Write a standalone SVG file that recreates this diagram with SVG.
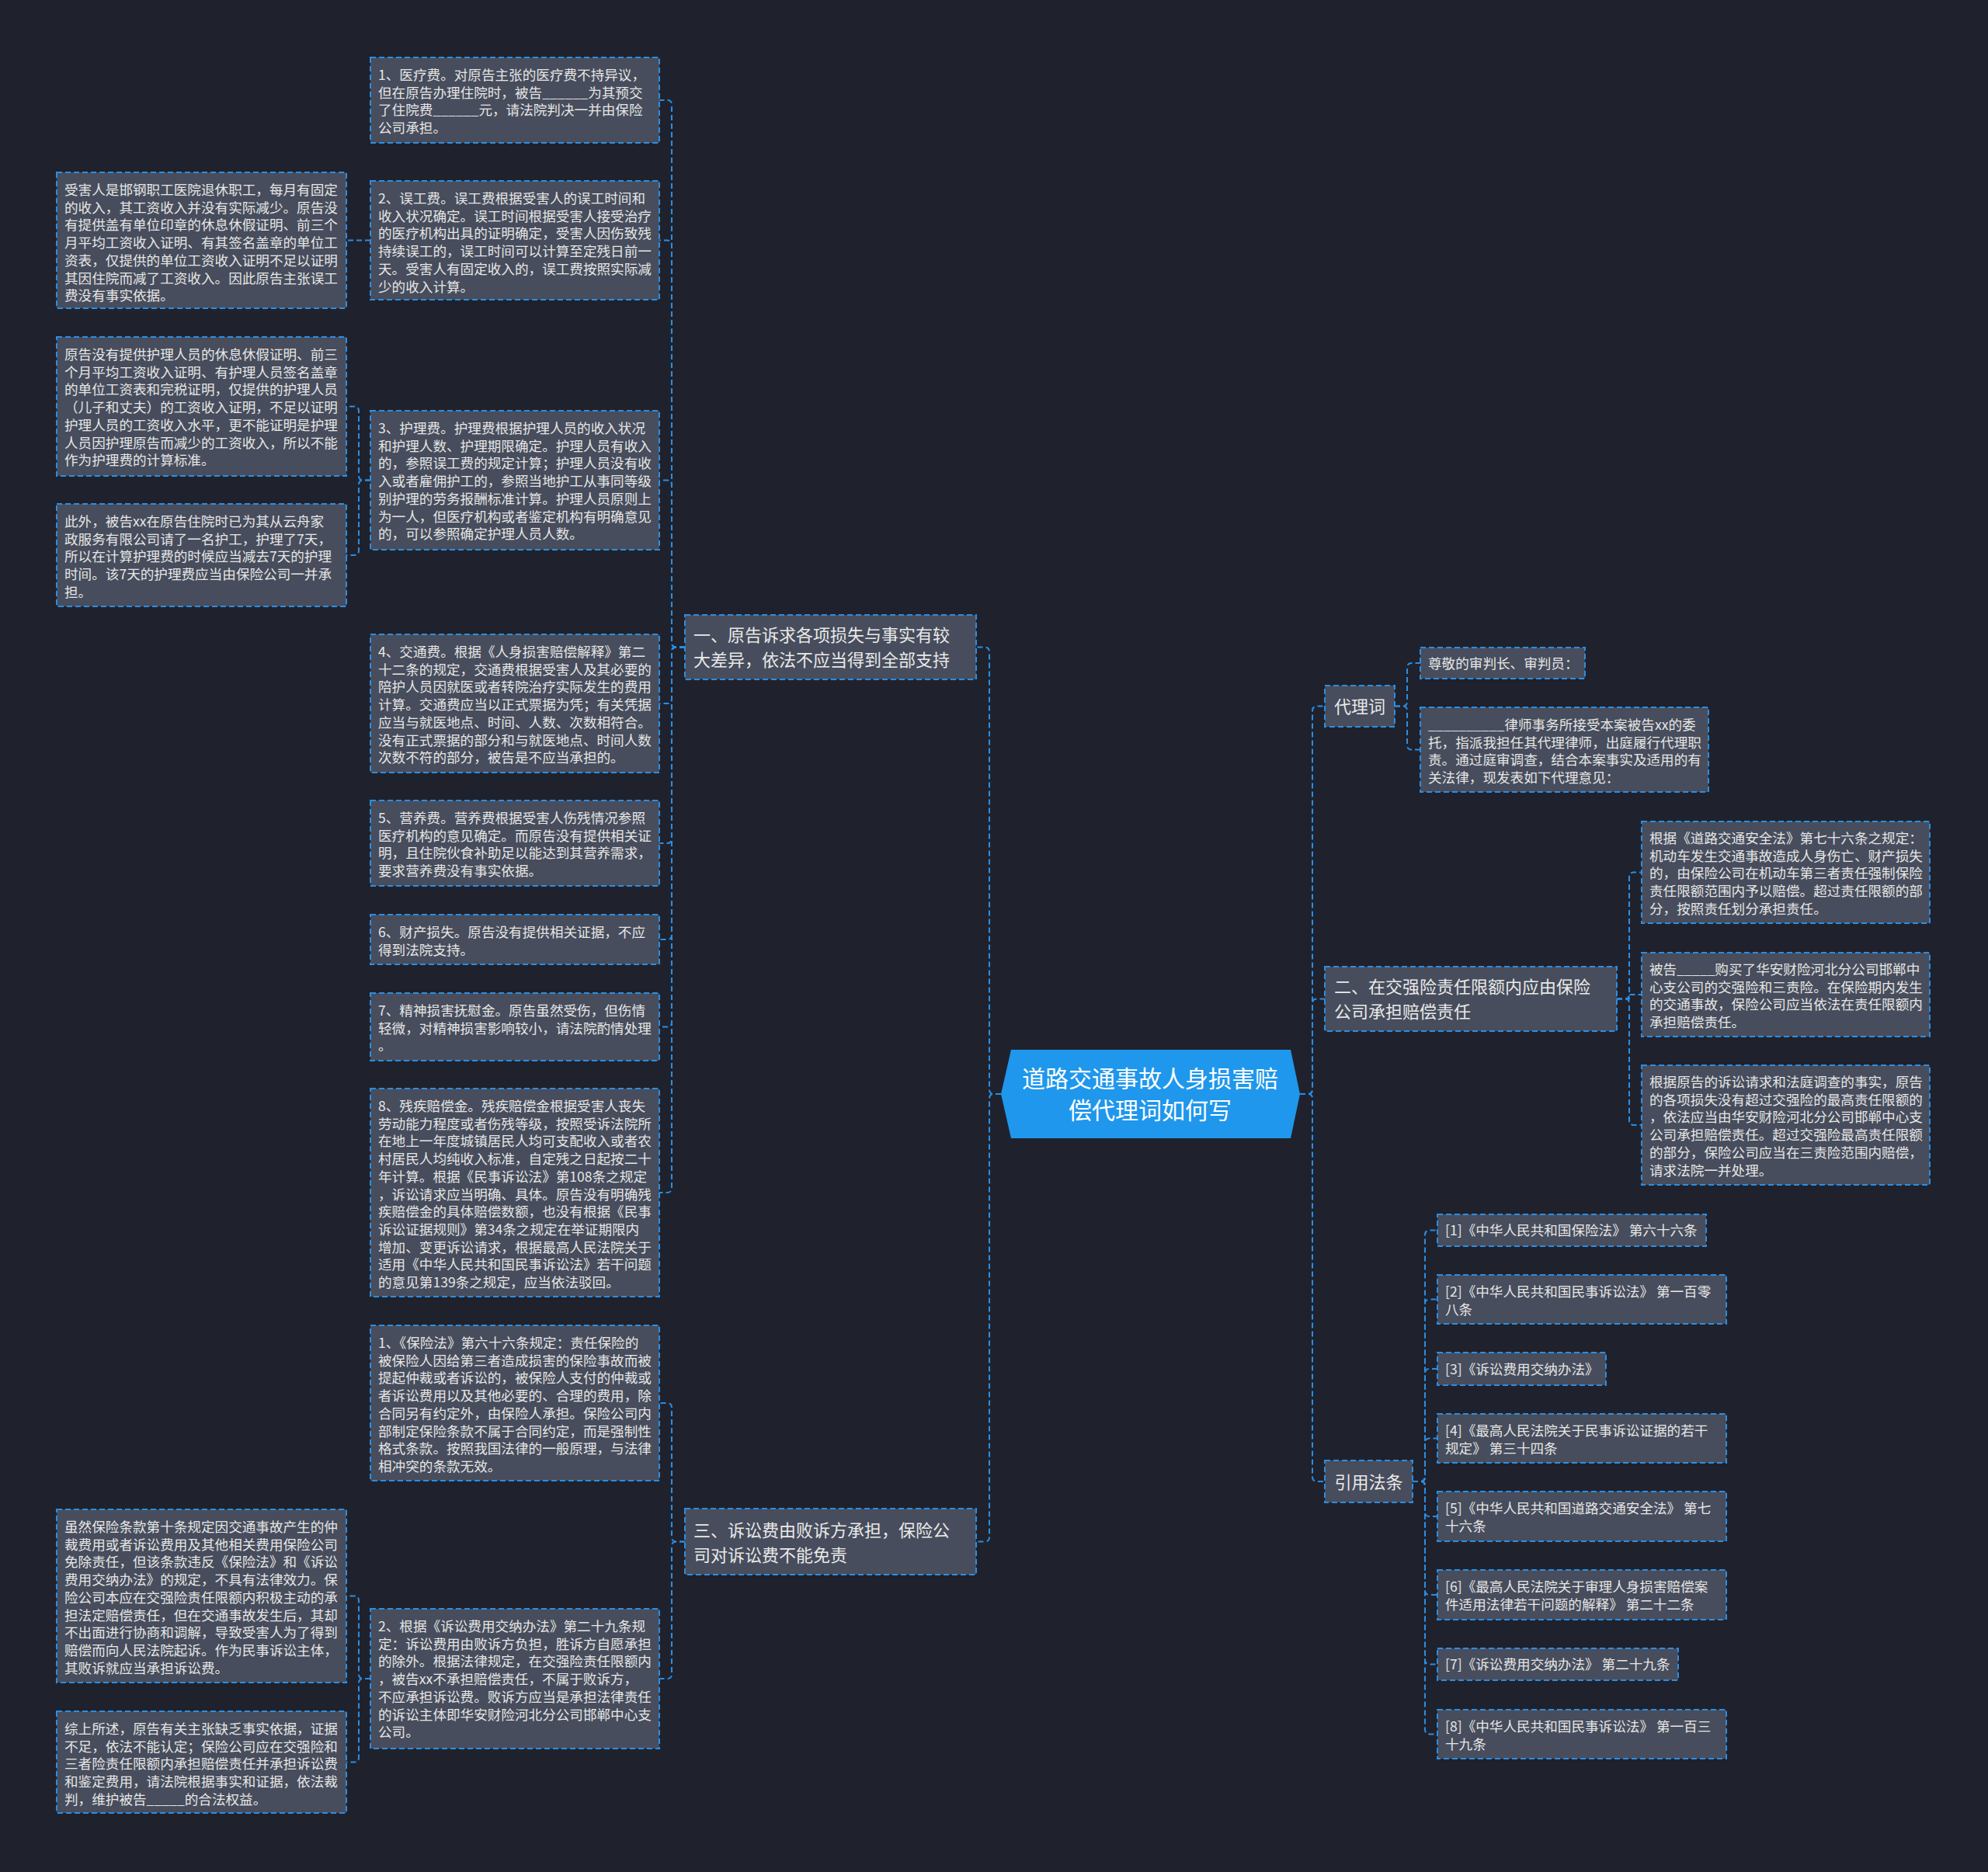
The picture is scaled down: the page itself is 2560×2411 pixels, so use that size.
<svg xmlns="http://www.w3.org/2000/svg" width="2560" height="2411" viewBox="0 0 2560 2411">
<style>
.n rect{fill:#474d5c;stroke:#2b8de3;stroke-width:2;stroke-dasharray:7 4}
.t{font-family:"Noto Sans CJK SC","Noto Sans",sans-serif;fill:#e6e6e6;font-size:17.6px}
.tb{font-family:"Noto Sans CJK SC","Noto Sans",sans-serif;fill:#e9e9e9;font-size:22px}
.tc{font-family:"Noto Sans CJK SC","Noto Sans",sans-serif;fill:#ffffff;font-size:30px;text-anchor:middle}
.mid{text-anchor:middle}
#conn path{fill:none;stroke:#2b8de3;stroke-width:2;stroke-dasharray:7 4}
</style>
<rect width="2560" height="2411" fill="#1f222d"/>
<g id="conn">
<path d="M1289,1409 H1280 Q1274,1409 1274,1403 V839.5 Q1274,833.5 1268,833.5 H1257"/>
<path d="M1289,1409 H1280 Q1274,1409 1274,1415 V1979.5 Q1274,1985.5 1268,1985.5 H1257"/>
<path d="M1674,1409 H1684 Q1690,1409 1690,1403 V915.5 Q1690,909.5 1696,909.5 H1706"/>
<path d="M1674,1409 H1684 Q1690,1409 1690,1403 V1292.5 Q1690,1286.5 1696,1286.5 H1706"/>
<path d="M1674,1409 H1684 Q1690,1409 1690,1415 V1902 Q1690,1908 1696,1908 H1706"/>
<path d="M882,833.5 H871 Q865,833.5 865,827.5 V135 Q865,129 859,129 H849"/>
<path d="M882,833.5 H871 Q865,833.5 865,827.5 V315.5 Q865,309.5 859,309.5 H849"/>
<path d="M882,833.5 H871 Q865,833.5 865,827.5 V624.5 Q865,618.5 859,618.5 H849"/>
<path d="M882,833.5 H871 Q865,833.5 865,839.5 V900 Q865,906 859,906 H849"/>
<path d="M882,833.5 H871 Q865,833.5 865,839.5 V1080 Q865,1086 859,1086 H849"/>
<path d="M882,833.5 H871 Q865,833.5 865,839.5 V1204 Q865,1210 859,1210 H849"/>
<path d="M882,833.5 H871 Q865,833.5 865,839.5 V1316.5 Q865,1322.5 859,1322.5 H849"/>
<path d="M882,833.5 H871 Q865,833.5 865,839.5 V1530 Q865,1536 859,1536 H849"/>
<path d="M882,1985.5 H871 Q865,1985.5 865,1979.5 V1813 Q865,1807 859,1807 H849"/>
<path d="M882,1985.5 H871 Q865,1985.5 865,1991.5 V2156 Q865,2162 859,2162 H849"/>
<path d="M477,309.5 H446"/>
<path d="M477,618.5 H468 Q462,618.5 462,612.5 V529.5 Q462,523.5 456,523.5 H446"/>
<path d="M477,618.5 H468 Q462,618.5 462,624.5 V709 Q462,715 456,715 H446"/>
<path d="M477,2162 H468 Q462,2162 462,2156 V2061.5 Q462,2055.5 456,2055.5 H446"/>
<path d="M477,2162 H468 Q462,2162 462,2168 V2263.5 Q462,2269.5 456,2269.5 H446"/>
<path d="M1796,909.5 H1806 Q1812,909.5 1812,903.5 V860 Q1812,854 1818,854 H1829"/>
<path d="M1796,909.5 H1806 Q1812,909.5 1812,915.5 V959.5 Q1812,965.5 1818,965.5 H1829"/>
<path d="M2082,1286.5 H2092 Q2098,1286.5 2098,1280.5 V1129.5 Q2098,1123.5 2104,1123.5 H2114"/>
<path d="M2082,1286.5 H2098 V1281 H2114"/>
<path d="M2082,1286.5 H2092 Q2098,1286.5 2098,1292.5 V1443 Q2098,1449 2104,1449 H2114"/>
<path d="M1819,1908 H1829 Q1835,1908 1835,1902 V1590.5 Q1835,1584.5 1841,1584.5 H1851"/>
<path d="M1819,1908 H1829 Q1835,1908 1835,1902 V1679.5 Q1835,1673.5 1841,1673.5 H1851"/>
<path d="M1819,1908 H1829 Q1835,1908 1835,1902 V1769 Q1835,1763 1841,1763 H1851"/>
<path d="M1819,1908 H1829 Q1835,1908 1835,1902 V1858.5 Q1835,1852.5 1841,1852.5 H1851"/>
<path d="M1819,1908 H1829 Q1835,1908 1835,1914 V1947 Q1835,1953 1841,1953 H1851"/>
<path d="M1819,1908 H1829 Q1835,1908 1835,1914 V2048 Q1835,2054 1841,2054 H1851"/>
<path d="M1819,1908 H1829 Q1835,1908 1835,1914 V2137.5 Q1835,2143.5 1841,2143.5 H1851"/>
<path d="M1819,1908 H1829 Q1835,1908 1835,1914 V2227.5 Q1835,2233.5 1841,2233.5 H1851"/>
</g>

<g id="center">
<polygon points="1302,1352 1662,1352 1674,1409 1662,1466 1302,1466 1289,1409" fill="#1f97ec"/>
<text class="tc"><tspan x="1481" y="1400">道路交通事故人身损害赔</tspan><tspan x="1481" y="1441">偿代理词如何写</tspan></text>
</g>

<g id="b1" class="n"><rect x="882" y="792" width="375" height="83"/>
<text class="tb"><tspan x="893" y="826">一、原告诉求各项损失与事实有较</tspan><tspan x="893" y="858">大差异，依法不应当得到全部支持</tspan></text></g>

<g id="b3" class="n"><rect x="882" y="1943" width="375" height="85"/>
<text class="tb"><tspan x="893" y="1979">三、诉讼费由败诉方承担，保险公</tspan><tspan x="893" y="2011">司对诉讼费不能免责</tspan></text></g>

<g id="n1" class="n"><rect x="477" y="74" width="372" height="110"/>
<text class="t"><tspan x="487" y="103">1、医疗费。对原告主张的医疗费不持异议，</tspan><tspan x="487" y="125.7">但在原告办理住院时，被告______为其预交</tspan><tspan x="487" y="148.4">了住院费______元，请法院判决一并由保险</tspan><tspan x="487" y="171.1">公司承担。</tspan></text></g>

<g id="n2" class="n"><rect x="477" y="233" width="372" height="153"/>
<text class="t"><tspan x="487" y="262">2、误工费。误工费根据受害人的误工时间和</tspan><tspan x="487" y="284.7">收入状况确定。误工时间根据受害人接受治疗</tspan><tspan x="487" y="307.4">的医疗机构出具的证明确定，受害人因伤致残</tspan><tspan x="487" y="330.1">持续误工的，误工时间可以计算至定残日前一</tspan><tspan x="487" y="352.8">天。受害人有固定收入的，误工费按照实际减</tspan><tspan x="487" y="375.5">少的收入计算。</tspan></text></g>

<g id="fl1" class="n"><rect x="73" y="222" width="373" height="175"/>
<text class="t"><tspan x="83" y="251">受害人是邯钢职工医院退休职工，每月有固定</tspan><tspan x="83" y="273.7">的收入，其工资收入并没有实际减少。原告没</tspan><tspan x="83" y="296.4">有提供盖有单位印章的休息休假证明、前三个</tspan><tspan x="83" y="319.1">月平均工资收入证明、有其签名盖章的单位工</tspan><tspan x="83" y="341.8">资表，仅提供的单位工资收入证明不足以证明</tspan><tspan x="83" y="364.5">其因住院而减了工资收入。因此原告主张误工</tspan><tspan x="83" y="387.2">费没有事实依据。</tspan></text></g>

<g id="n3" class="n"><rect x="477" y="529" width="372" height="179"/>
<text class="t"><tspan x="487" y="558">3、护理费。护理费根据护理人员的收入状况</tspan><tspan x="487" y="580.7">和护理人数、护理期限确定。护理人员有收入</tspan><tspan x="487" y="603.4">的，参照误工费的规定计算；护理人员没有收</tspan><tspan x="487" y="626.1">入或者雇佣护工的，参照当地护工从事同等级</tspan><tspan x="487" y="648.8">别护理的劳务报酬标准计算。护理人员原则上</tspan><tspan x="487" y="671.5">为一人，但医疗机构或者鉴定机构有明确意见</tspan><tspan x="487" y="694.2">的，可以参照确定护理人员人数。</tspan></text></g>

<g id="fl2" class="n"><rect x="73" y="434" width="373" height="179"/>
<text class="t"><tspan x="83" y="463">原告没有提供护理人员的休息休假证明、前三</tspan><tspan x="83" y="485.7">个月平均工资收入证明、有护理人员签名盖章</tspan><tspan x="83" y="508.4">的单位工资表和完税证明，仅提供的护理人员</tspan><tspan x="83" y="531.1">（儿子和丈夫）的工资收入证明，不足以证明</tspan><tspan x="83" y="553.8">护理人员的工资收入水平，更不能证明是护理</tspan><tspan x="83" y="576.5">人员因护理原告而减少的工资收入，所以不能</tspan><tspan x="83" y="599.2">作为护理费的计算标准。</tspan></text></g>

<g id="fl3" class="n"><rect x="73" y="649" width="373" height="132"/>
<text class="t"><tspan x="83" y="678">此外，被告xx在原告住院时已为其从云舟家</tspan><tspan x="83" y="700.7">政服务有限公司请了一名护工，护理了7天，</tspan><tspan x="83" y="723.4">所以在计算护理费的时候应当减去7天的护理</tspan><tspan x="83" y="746.1">时间。该7天的护理费应当由保险公司一并承</tspan><tspan x="83" y="768.8">担。</tspan></text></g>

<g id="n4" class="n"><rect x="477" y="817" width="372" height="178"/>
<text class="t"><tspan x="487" y="846">4、交通费。根据《人身损害赔偿解释》第二</tspan><tspan x="487" y="868.7">十二条的规定，交通费根据受害人及其必要的</tspan><tspan x="487" y="891.4">陪护人员因就医或者转院治疗实际发生的费用</tspan><tspan x="487" y="914.1">计算。交通费应当以正式票据为凭；有关凭据</tspan><tspan x="487" y="936.8">应当与就医地点、时间、人数、次数相符合。</tspan><tspan x="487" y="959.5">没有正式票据的部分和与就医地点、时间人数</tspan><tspan x="487" y="982.2">次数不符的部分，被告是不应当承担的。</tspan></text></g>

<g id="n5" class="n"><rect x="477" y="1031" width="372" height="110"/>
<text class="t"><tspan x="487" y="1060">5、营养费。营养费根据受害人伤残情况参照</tspan><tspan x="487" y="1082.7">医疗机构的意见确定。而原告没有提供相关证</tspan><tspan x="487" y="1105.4">明，且住院伙食补助足以能达到其营养需求，</tspan><tspan x="487" y="1128.1">要求营养费没有事实依据。</tspan></text></g>

<g id="n6" class="n"><rect x="477" y="1178" width="372" height="64"/>
<text class="t"><tspan x="487" y="1207">6、财产损失。原告没有提供相关证据，不应</tspan><tspan x="487" y="1229.7">得到法院支持。</tspan></text></g>

<g id="n7" class="n"><rect x="477" y="1279" width="372" height="87"/>
<text class="t"><tspan x="487" y="1308">7、精神损害抚慰金。原告虽然受伤，但伤情</tspan><tspan x="487" y="1330.7">轻微，对精神损害影响较小，请法院酌情处理</tspan><tspan x="487" y="1353.4">。</tspan></text></g>

<g id="n8" class="n"><rect x="477" y="1402" width="372" height="268"/>
<text class="t"><tspan x="487" y="1431">8、残疾赔偿金。残疾赔偿金根据受害人丧失</tspan><tspan x="487" y="1453.7">劳动能力程度或者伤残等级，按照受诉法院所</tspan><tspan x="487" y="1476.4">在地上一年度城镇居民人均可支配收入或者农</tspan><tspan x="487" y="1499.1">村居民人均纯收入标准，自定残之日起按二十</tspan><tspan x="487" y="1521.8">年计算。根据《民事诉讼法》第108条之规定</tspan><tspan x="487" y="1544.5">，诉讼请求应当明确、具体。原告没有明确残</tspan><tspan x="487" y="1567.2">疾赔偿金的具体赔偿数额，也没有根据《民事</tspan><tspan x="487" y="1589.9">诉讼证据规则》第34条之规定在举证期限内</tspan><tspan x="487" y="1612.6">增加、变更诉讼请求，根据最高人民法院关于</tspan><tspan x="487" y="1635.3">适用《中华人民共和国民事诉讼法》若干问题</tspan><tspan x="487" y="1658">的意见第139条之规定，应当依法驳回。</tspan></text></g>

<g id="t1" class="n"><rect x="477" y="1707" width="372" height="200"/>
<text class="t"><tspan x="487" y="1736">1、《保险法》第六十六条规定：责任保险的</tspan><tspan x="487" y="1758.7">被保险人因给第三者造成损害的保险事故而被</tspan><tspan x="487" y="1781.4">提起仲裁或者诉讼的，被保险人支付的仲裁或</tspan><tspan x="487" y="1804.1">者诉讼费用以及其他必要的、合理的费用，除</tspan><tspan x="487" y="1826.8">合同另有约定外，由保险人承担。保险公司内</tspan><tspan x="487" y="1849.5">部制定保险条款不属于合同约定，而是强制性</tspan><tspan x="487" y="1872.2">格式条款。按照我国法律的一般原理，与法律</tspan><tspan x="487" y="1894.9">相冲突的条款无效。</tspan></text></g>

<g id="t2" class="n"><rect x="477" y="2072" width="372" height="180"/>
<text class="t"><tspan x="487" y="2101">2、根据《诉讼费用交纳办法》第二十九条规</tspan><tspan x="487" y="2123.7">定：诉讼费用由败诉方负担，胜诉方自愿承担</tspan><tspan x="487" y="2146.4">的除外。根据法律规定，在交强险责任限额内</tspan><tspan x="487" y="2169.1">，被告xx不承担赔偿责任，不属于败诉方，</tspan><tspan x="487" y="2191.8">不应承担诉讼费。败诉方应当是承担法律责任</tspan><tspan x="487" y="2214.5">的诉讼主体即华安财险河北分公司邯郸中心支</tspan><tspan x="487" y="2237.2">公司。</tspan></text></g>

<g id="fl4" class="n"><rect x="73" y="1944" width="373" height="223"/>
<text class="t"><tspan x="83" y="1973">虽然保险条款第十条规定因交通事故产生的仲</tspan><tspan x="83" y="1995.7">裁费用或者诉讼费用及其他相关费用保险公司</tspan><tspan x="83" y="2018.4">免除责任，但该条款违反《保险法》和《诉讼</tspan><tspan x="83" y="2041.1">费用交纳办法》的规定，不具有法律效力。保</tspan><tspan x="83" y="2063.8">险公司本应在交强险责任限额内积极主动的承</tspan><tspan x="83" y="2086.5">担法定赔偿责任，但在交通事故发生后，其却</tspan><tspan x="83" y="2109.2">不出面进行协商和调解，导致受害人为了得到</tspan><tspan x="83" y="2131.9">赔偿而向人民法院起诉。作为民事诉讼主体，</tspan><tspan x="83" y="2154.6">其败诉就应当承担诉讼费。</tspan></text></g>

<g id="fl5" class="n"><rect x="73" y="2204" width="373" height="131"/>
<text class="t"><tspan x="83" y="2233">综上所述，原告有关主张缺乏事实依据，证据</tspan><tspan x="83" y="2255.7">不足，依法不能认定；保险公司应在交强险和</tspan><tspan x="83" y="2278.4">三者险责任限额内承担赔偿责任并承担诉讼费</tspan><tspan x="83" y="2301.1">和鉴定费用，请法院根据事实和证据，依法裁</tspan><tspan x="83" y="2323.8">判，维护被告_____的合法权益。</tspan></text></g>

<g id="r1" class="n"><rect x="1706" y="883" width="90" height="53"/>
<text class="tb mid" x="1751" y="918">代理词</text></g>

<g id="a1" class="n"><rect x="1829" y="834" width="212" height="40"/>
<text class="t" x="1839" y="860.5">尊敬的审判长、审判员：</text></g>

<g id="a2" class="n"><rect x="1829" y="911" width="371" height="109"/>
<text class="t"><tspan x="1839" y="940">__________律师事务所接受本案被告xx的委</tspan><tspan x="1839" y="962.7">托，指派我担任其代理律师，出庭履行代理职</tspan><tspan x="1839" y="985.4">责。通过庭审调查，结合本案事实及适用的有</tspan><tspan x="1839" y="1008.1">关法律，现发表如下代理意见：</tspan></text></g>

<g id="r2" class="n"><rect x="1706" y="1245" width="376" height="83"/>
<text class="tb"><tspan x="1718" y="1279">二、在交强险责任限额内应由保险</tspan><tspan x="1718" y="1311">公司承担赔偿责任</tspan></text></g>

<g id="e1" class="n"><rect x="2114" y="1058" width="371" height="131"/>
<text class="t"><tspan x="2124" y="1086">根据《道路交通安全法》第七十六条之规定：</tspan><tspan x="2124" y="1108.7">机动车发生交通事故造成人身伤亡、财产损失</tspan><tspan x="2124" y="1131.4">的，由保险公司在机动车第三者责任强制保险</tspan><tspan x="2124" y="1154.1">责任限额范围内予以赔偿。超过责任限额的部</tspan><tspan x="2124" y="1176.8">分，按照责任划分承担责任。</tspan></text></g>

<g id="e2" class="n"><rect x="2114" y="1227" width="371" height="108"/>
<text class="t"><tspan x="2124" y="1255">被告_____购买了华安财险河北分公司邯郸中</tspan><tspan x="2124" y="1277.7">心支公司的交强险和三责险。在保险期内发生</tspan><tspan x="2124" y="1300.4">的交通事故，保险公司应当依法在责任限额内</tspan><tspan x="2124" y="1323.1">承担赔偿责任。</tspan></text></g>

<g id="e3" class="n"><rect x="2114" y="1372" width="371" height="154"/>
<text class="t"><tspan x="2124" y="1400">根据原告的诉讼请求和法庭调查的事实，原告</tspan><tspan x="2124" y="1422.7">的各项损失没有超过交强险的最高责任限额的</tspan><tspan x="2124" y="1445.4">，依法应当由华安财险河北分公司邯郸中心支</tspan><tspan x="2124" y="1468.1">公司承担赔偿责任。超过交强险最高责任限额</tspan><tspan x="2124" y="1490.8">的部分，保险公司应当在三责险范围内赔偿，</tspan><tspan x="2124" y="1513.5">请求法院一并处理。</tspan></text></g>

<g id="r3" class="n"><rect x="1706" y="1881" width="113" height="54"/>
<text class="tb mid" x="1762.5" y="1916.6">引用法条</text></g>

<g id="f1" class="n"><rect x="1851" y="1564" width="346" height="41"/>
<text class="t" x="1861" y="1591">[1]《中华人民共和国保险法》 第六十六条</text></g>
<g id="f2" class="n"><rect x="1851" y="1642" width="372" height="63"/>
<text class="t"><tspan x="1861" y="1670">[2]《中华人民共和国民事诉讼法》 第一百零</tspan><tspan x="1861" y="1692.7">八条</tspan></text></g>
<g id="f3" class="n"><rect x="1851" y="1742" width="217" height="42"/>
<text class="t" x="1861" y="1769.5">[3]《诉讼费用交纳办法》</text></g>
<g id="f4" class="n"><rect x="1851" y="1821" width="372" height="63"/>
<text class="t"><tspan x="1861" y="1849">[4]《最高人民法院关于民事诉讼证据的若干</tspan><tspan x="1861" y="1871.7">规定》 第三十四条</tspan></text></g>
<g id="f5" class="n"><rect x="1851" y="1921" width="372" height="64"/>
<text class="t"><tspan x="1861" y="1949">[5]《中华人民共和国道路交通安全法》 第七</tspan><tspan x="1861" y="1971.7">十六条</tspan></text></g>
<g id="f6" class="n"><rect x="1851" y="2022" width="372" height="64"/>
<text class="t"><tspan x="1861" y="2050">[6]《最高人民法院关于审理人身损害赔偿案</tspan><tspan x="1861" y="2072.7">件适用法律若干问题的解释》 第二十二条</tspan></text></g>
<g id="f7" class="n"><rect x="1851" y="2123" width="310" height="41"/>
<text class="t" x="1861" y="2150">[7]《诉讼费用交纳办法》 第二十九条</text></g>
<g id="f8" class="n"><rect x="1851" y="2202" width="372" height="63"/>
<text class="t"><tspan x="1861" y="2230">[8]《中华人民共和国民事诉讼法》 第一百三</tspan><tspan x="1861" y="2252.7">十九条</tspan></text></g>
</svg>
